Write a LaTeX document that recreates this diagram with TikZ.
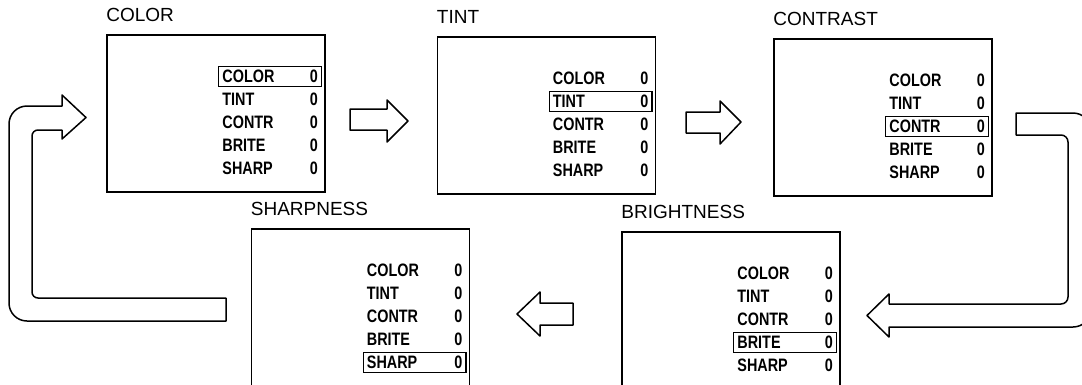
\documentclass[tikz,border=0pt]{standalone}
\usepackage{fontspec}
\setmainfont{Liberation Sans}
\newfontfamily\menufont[FakeStretch=0.8]{Liberation Sans}
\usetikzlibrary{fit}

\tikzset{
  screen/.style={draw, line width=1.6pt, minimum width=218pt, minimum height=157pt, inner sep=0pt},
  title/.style={anchor=base west, inner sep=0pt, font=\fontsize{19}{19}\selectfont},
  item/.style={anchor=west, inner sep=1pt, font=\menufont\bfseries\fontsize{18}{18}\selectfont},
  val/.style={inner sep=1pt, font=\menufont\bfseries\fontsize{18}{18}\selectfont},
  hilite/.style={draw, line width=1.2pt, inner sep=2.5pt},
  blockarrow/.style={draw, line width=1.5pt, line join=round},
}

% menu of one screen: #1 screen node, #2 selected row
\newcommand{\menulist}[2]{%
  \foreach \itm [count=\i] in {COLOR,TINT,CONTR,BRITE,SHARP}{
    \node[item] (#1-\i) at ([xshift=115pt, yshift={-(19+23*\i)}]#1.north west) {\itm};
    \node[val] (#1-v\i) at ([xshift=-12pt, yshift={-(19+23*\i)}]#1.north east) {0};
    \ifnum\i=#2
      \node[hilite, fit=(#1-\i)(#1-v\i)] (#1-sel) {};
    \fi
  }}

\begin{document}
\begin{tikzpicture}[x=1pt, y=-1pt]
    \useasboundingbox (0,0) rectangle (1082,384);
    % Screens
    \node[screen] (color) at (216,113.5) {};
    \node[screen] (tint) at (546.5,115.5) {};
    \node[screen] (contrast) at (883,117.5) {};
    \node[screen] (sharpness) at (360.5,307.5) {};
    \node[screen] (brightness) at (731,310.5) {};
    % Titles
    \node[title] (color-t) at ([yshift=12.5pt]color.north west) {COLOR};
    \node[title] (tint-t) at ([yshift=12.5pt]tint.north west) {TINT};
    \node[title] (contrast-t) at ([yshift=12.5pt]contrast.north west) {CONTRAST};
    \node[title] (sharpness-t) at ([yshift=12.5pt]sharpness.north west) {SHARPNESS};
    \node[title] (brightness-t) at ([yshift=12.5pt]brightness.north west) {BRIGHTNESS};
    % Menus
    \menulist{color}{1}
    \menulist{tint}{2}
    \menulist{contrast}{3}
    \menulist{brightness}{4}
    \menulist{sharpness}{5}
    % Arrows
    \draw[blockarrow] (350,109) -- (387,109) -- (387,100) -- (408,121) -- (387,142)
        -- (387,130) -- (350,130) -- cycle;
    \draw[blockarrow] (686,112) -- (720,112) -- (720,101) -- (741,122) -- (720,144)
        -- (720,133) -- (686,133) -- cycle;
    \draw[blockarrow] (1016,113) [rounded corners=18pt] -- (1091,113) -- (1091,327)
        [sharp corners] -- (889,327) -- (889,337) -- (867,315.5) -- (889,294)
        -- (889,304) [rounded corners=7pt] -- (1068,304) -- (1068,135)
        [sharp corners] -- (1016,135) -- cycle;
    \draw[blockarrow] (573,303) -- (540,303) -- (540,292) -- (517,314) -- (540,336)
        -- (540,325) -- (573,325) -- cycle;
    \draw[blockarrow] (226,298) [rounded corners=6pt] -- (32,298) -- (32,130)
        [sharp corners] -- (62,130) -- (62,139) -- (86,117.5) -- (62,95)
        -- (62,106) [rounded corners=18pt] -- (9,106) -- (9,321)
        [sharp corners] -- (226,321) -- cycle;
\end{tikzpicture}
\end{document}
